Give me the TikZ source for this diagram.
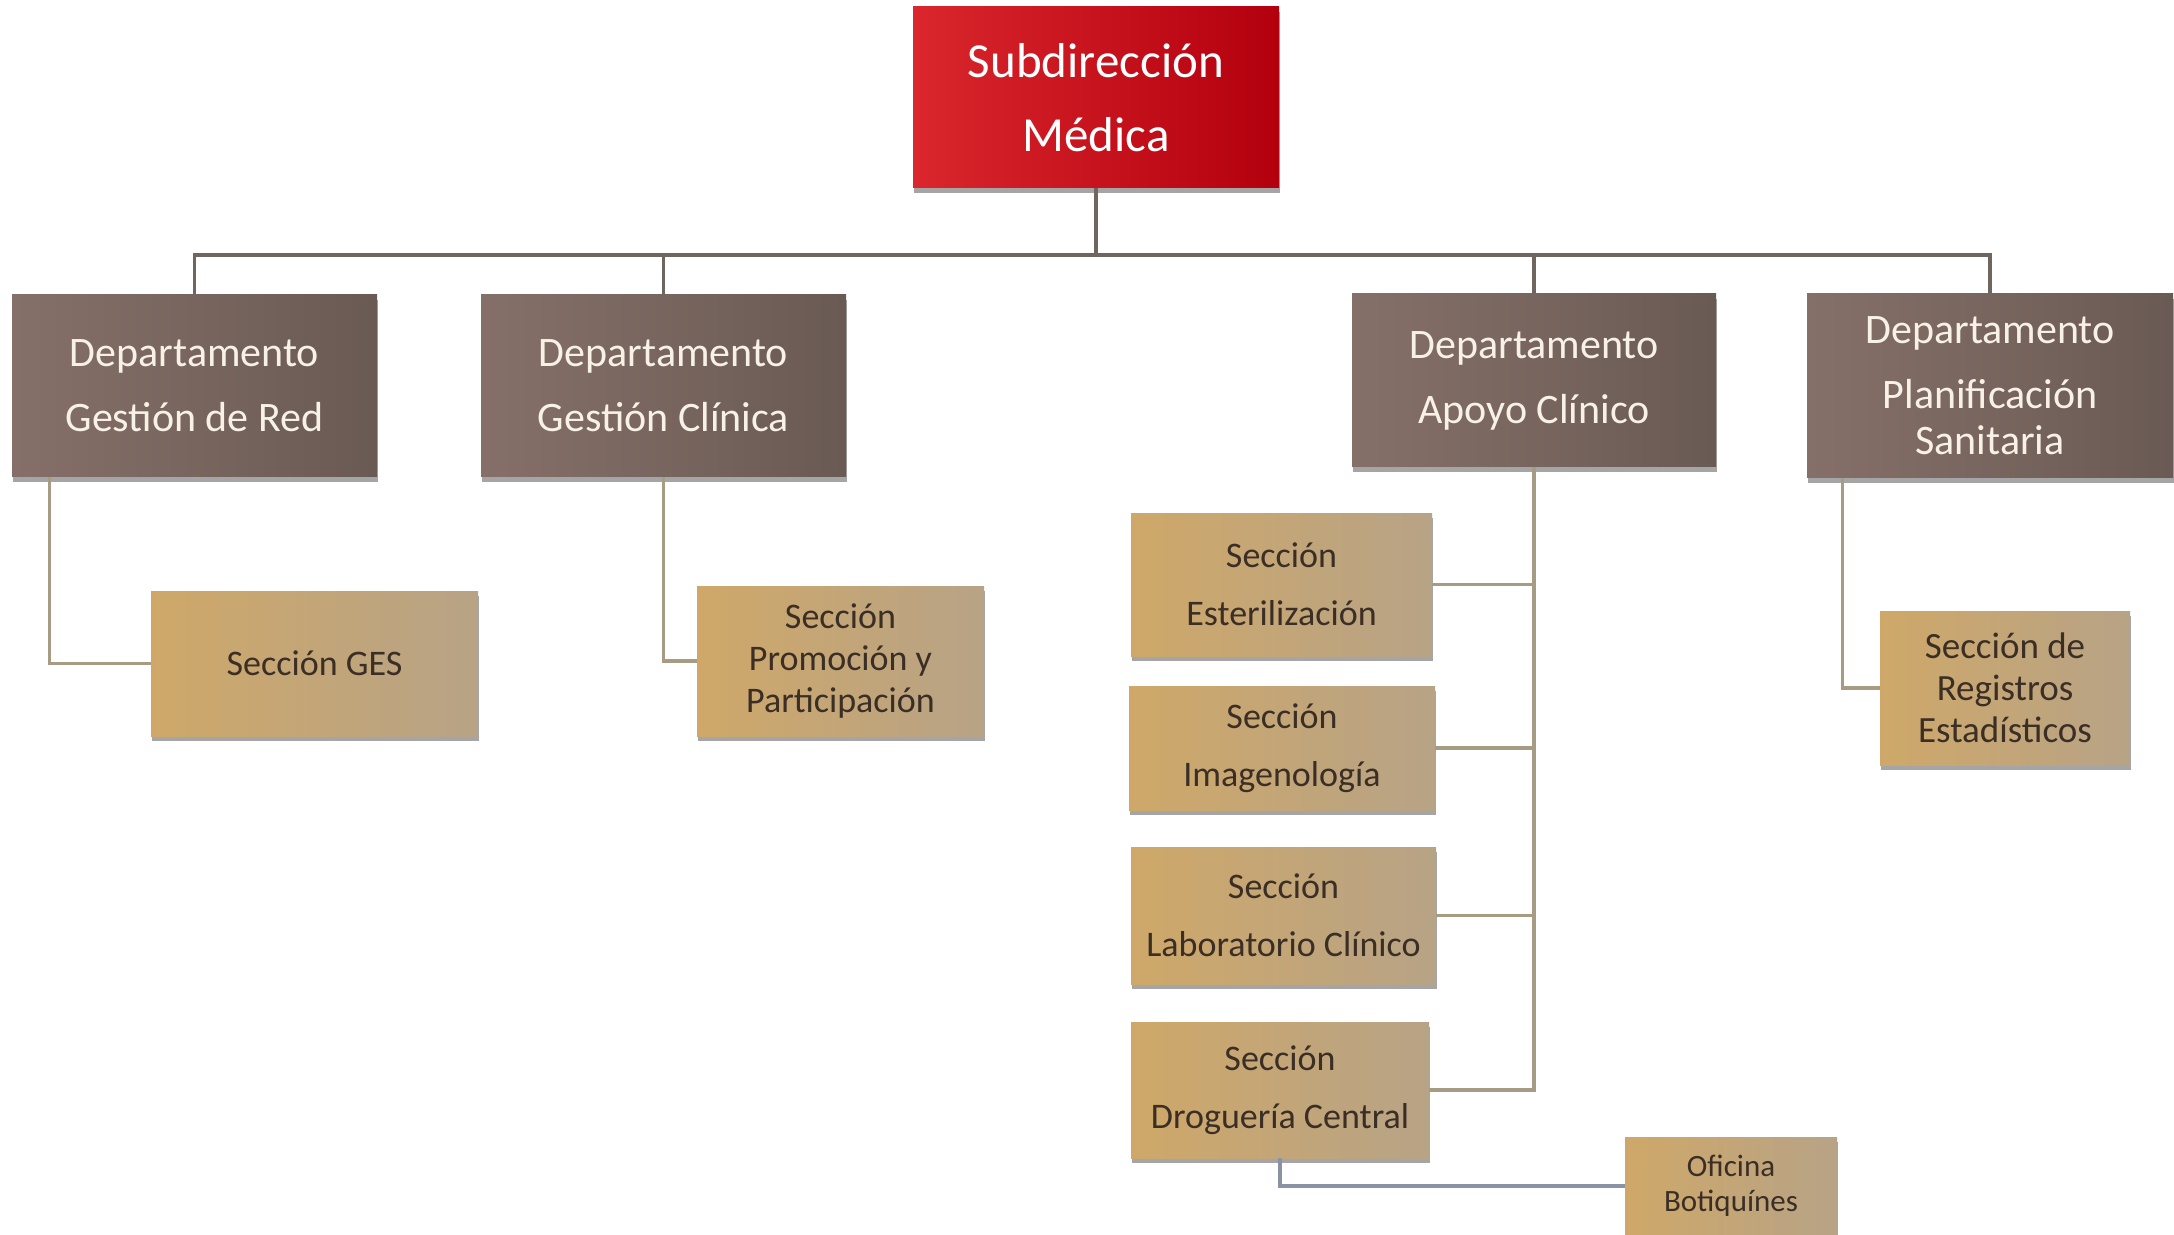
\documentclass[tikz,border=0pt]{standalone}
\usepackage{fontspec}
\setmainfont{Carlito}
\usetikzlibrary{shadows}
\definecolor{redL}{HTML}{DA262C}
\definecolor{redR}{HTML}{B3000E}
\definecolor{brnL}{HTML}{857069}
\definecolor{brnR}{HTML}{6A5A54}
\definecolor{tanL}{HTML}{CFA869}
\definecolor{tanR}{HTML}{B7A386}
\definecolor{trunkC}{HTML}{6F6660}
\definecolor{branchC}{HTML}{A89B84}
\definecolor{ofiC}{HTML}{8A93A3}
\definecolor{tanText}{HTML}{3A2E25}
\definecolor{deptText}{HTML}{F7F1E8}
\newcommand\orgbox[7]{%
  \node[#6, minimum width={(#4-#2)*0.5pt}, minimum height={(#5-#3)*0.5pt}]
    (#1) at ({(#2+#4)/2},{(#3+#5)/2}) {#7};}
\begin{document}
\begin{tikzpicture}[x=0.5pt,y=-0.5pt,
  basebox/.style={rectangle, inner sep=0pt, align=center,
    drop shadow={opacity=0.5, fill=black!70, shadow xshift=0.6pt, shadow yshift=-2.5pt}},
  topbox/.style={basebox, left color=redL, right color=redR, text=white,
    font=\fontsize{24.5}{37}\selectfont},
  deptbox/.style={basebox, left color=brnL, right color=brnR, text=deptText,
    font=\fontsize{21}{32.5}\selectfont},
  secbox/.style={basebox, left color=tanL, right color=tanR, text=tanText,
    font=\fontsize{18}{29}\selectfont},
  trunk/.style={draw=trunkC, line width=1.8pt},
  branch/.style={draw=branchC, line width=1.6pt},
  ofiline/.style={draw=ofiC, line width=1.6pt}]
\useasboundingbox (0,0) rectangle (2174,1235);
\fill[white] (0,0) rectangle (2174,1235);

% boxes
\orgbox{sm}{913}{7}{1279}{188}{topbox}{Subdirección\\Médica}
\orgbox{d1}{12}{295}{377}{477}{deptbox}{Departamento\\Gestión de Red}
\orgbox{d2}{481}{295}{846}{477}{deptbox}{Departamento\\Gestión Clínica}
\orgbox{d3}{1352}{294}{1716}{467}{deptbox}{Departamento\\Apoyo Clínico}
\orgbox{d4}{1807}{294}{2173}{478}{deptbox, font=\fontsize{21}{23}\selectfont}{Departamento\\[9.5pt]Planificación\\Sanitaria}

\orgbox{ges}{151}{591}{478}{736}{secbox}{Sección GES}
\orgbox{prom}{697}{586}{984}{736}{secbox, font=\fontsize{18}{21}\selectfont}{Sección\\Promoción y\\Participación}
\orgbox{est}{1131}{513}{1432}{656}{secbox}{Sección\\Esterilización}
\orgbox{img}{1129}{686}{1435}{810}{secbox}{Sección\\Imagenología}
\orgbox{lab}{1131}{847}{1436}{984}{secbox}{Sección\\Laboratorio Clínico}
\orgbox{dro}{1131}{1022}{1429}{1158}{secbox}{Sección\\Droguería Central}
\orgbox{reg}{1880}{611}{2130}{765}{secbox, font=\fontsize{18.5}{21}\selectfont}{Sección de\\Registros\\Estadísticos}
\orgbox{ofi}{1625}{1137}{1837}{1235}{secbox, font=\fontsize{15.5}{17.5}\selectfont}{Oficina\\Botiquínes}

% trunk connectors
\coordinate (bus) at (1096,255);
\draw[trunk] (sm.south) -- (sm.south |- bus);
\draw[trunk] (d1.north) -- (d1.north |- bus) -- (d4.north |- bus) -- (d4.north);
\draw[trunk] (d2.north) -- (d2.north |- bus);
\draw[trunk] (d3.north) -- (d3.north |- bus);

% branch connectors
\draw[branch] (d1.south west) ++(38,0) |- (ges.west);
\draw[branch] (d2.south) |- (prom.west);
\draw[branch] (d3.south) |- (dro.east);
\draw[branch] (est.east) -- (est.east -| d3.south);
\draw[branch] (img.east) -- (img.east -| d3.south);
\draw[branch] (lab.east) -- (lab.east -| d3.south);
\draw[branch] (d4.south west) ++(36,0) |- (reg.west);
\draw[ofiline] (dro.south) |- (ofi.west);
\end{tikzpicture}
\end{document}
